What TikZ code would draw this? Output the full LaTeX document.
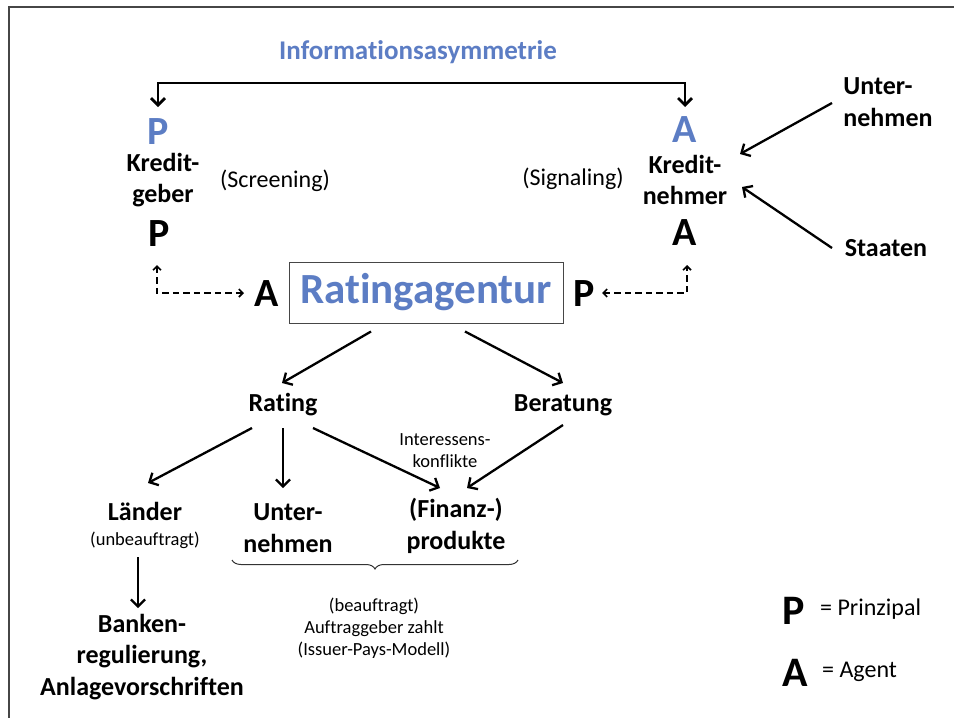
\documentclass[tikz,border=0pt]{standalone}
\usepackage{fontspec}
\setmainfont{Carlito}[Ligatures=NoCommon]
\usetikzlibrary{arrows.meta,decorations.pathreplacing}
\definecolor{ablue}{RGB}{92,125,196}
\definecolor{framegray}{RGB}{70,70,70}
\begin{document}
\begin{tikzpicture}[x=1pt,y=-1pt,
  lab/.style={font=\fontsize{26}{31.5}\selectfont\bfseries, align=center, inner sep=0pt},
  big/.style={font=\fontsize{40}{40}\selectfont\bfseries, inner sep=0pt},
  bigleg/.style={font=\fontsize{42}{42}\selectfont\bfseries, inner sep=0pt},
  mid/.style={font=\fontsize{24}{28}\selectfont, inner sep=0pt},
  small/.style={font=\fontsize{18.5}{22}\selectfont, align=center, inner sep=0pt},
  arr/.style={line width=2.3pt, -{Straight Barb[length=7pt,width=14pt]}},
  twoarr/.style={line width=2.8pt, {Straight Barb[length=7pt,width=14pt]}-{Straight Barb[length=7pt,width=14pt]}},
  dasharr/.style={line width=1.6pt, dash pattern=on 6.5pt off 4pt,
     {Straight Barb[length=4pt,width=8pt]}-{Straight Barb[length=4pt,width=8pt]}},
  framepath/.style={line width=1.2pt, draw=framegray},
  bracepath/.style={line width=1pt, draw=black!80, decorate,
     decoration={brace, mirror, amplitude=9pt}}
]
\useasboundingbox (0,0) rectangle (954,718);
\fill[white] (0,0) rectangle (954,718);
\draw[framepath] (9,718) -- (9,7) -- (954,7);

% top
\node[lab, text=ablue, font=\fontsize{27}{31}\selectfont\bfseries] (info) at (418,52) {Informationsasymmetrie};
\node[big, text=ablue] (pblue) at (158,132) {P};
\node[big, text=ablue] (ablue) at (685,130) {A};
\node[lab] (kg) at (163,180) {Kredit-\\geber};
\node[lab] (kn) at (685,180) {Kredit-\\nehmer};
\node[mid] (scr) at (275,181) {(Screening)};
\node[mid] (sig) at (573,179) {(Signaling)};
\node[big] (pblack) at (159,234) {P};
\node[big] (ablack) at (685,233) {A};
\node[lab, align=left] (untR) at (888,102) {Unter-\\nehmen};
\node[lab] (staat) at (886,248) {Staaten};

% rating agency row
\node[big] (aL) at (267,294) {A};
\node[big] (pR) at (584,294) {P};
\node[draw=framegray, line width=1pt, minimum width=274pt, minimum height=61pt,
      inner sep=0pt, text=ablue, font=\fontsize{43}{43}\selectfont\bfseries]
      (ra) at (426,292.5) {\raisebox{-2pt}{Ratingagentur}};

% middle
\node[lab] (rating) at (283,405) {Rating};
\node[lab] (berat) at (563,405) {Beratung};
\node[small] (konf) at (445,451) {Interessens-\\konflikte};

% bottom
\node[lab] (laender) at (145,511) {Länder};
\node[small] (unbeauf) at (145,540) {(unbeauftragt)};
\node[lab] (untM) at (288,528) {Unter-\\nehmen};
\node[lab] (fin) at (456,526) {(Finanz-)\\produkte};
\node[small] (beauf) at (374,628) {(beauftragt)\\Auftraggeber zahlt\\(Issuer-Pays-Modell)};
\node[lab] (bank) at (142,657) {Banken-\\regulierung,\\Anlagevorschriften};

% legend
\node[bigleg] (legP) at (794,611) {P};
\node[bigleg] (legA) at (795,673) {A};
\node[mid, anchor=west] (legPt) at (820,609) {= Prinzipal};
\node[mid, anchor=west] (legAt) at (822,672) {= Agent};

% connectors
\draw[twoarr] ([shift={(0,-25)}]pblue.center) -- ++(0,-24) -| ([shift={(0,-23)}]ablue.center);
\draw[arr] ([shift={(-56,1)}]untR.center) -- ([shift={(55,-26)}]kn.center);
\draw[arr] ([shift={(-54,0)}]staat.center) -- ([shift={(57,7)}]kn.center);
\draw[dasharr] ([shift={(-2,31)}]pblack.center) |- ([shift={(-23,-1)}]aL.center);
\draw[dasharr] ([shift={(18,-1)}]pR.center) -| ([shift={(2,32)}]ablack.center);
\draw[arr] ([shift={(-55,8)}]ra.south) -- ([shift={(-1,-22)}]rating.center);
\draw[arr] ([shift={(39,8)}]ra.south) -- ([shift={(0,-22)}]berat.center);
\draw[arr] ([shift={(-31,23)}]rating.center) -- ([shift={(3,-28)}]laender.center);
\draw[arr] ([shift={(0,23)}]rating.center) -- ([shift={(-5,-40)}]untM.center);
\draw[arr] ([shift={(30,23)}]rating.center) -- ([shift={(-16,-38)}]fin.center);
\draw[arr] ([shift={(0,20)}]berat.center) -- ([shift={(11,-38)}]fin.center);
\draw[arr] ([shift={(-7,17)}]unbeauf.center) -- ([shift={(-4,-49)}]bank.center);
\draw[bracepath] ([shift={(-56,32)}]untM.center) -- ([shift={(62,34)}]fin.center);
\end{tikzpicture}
\end{document}
